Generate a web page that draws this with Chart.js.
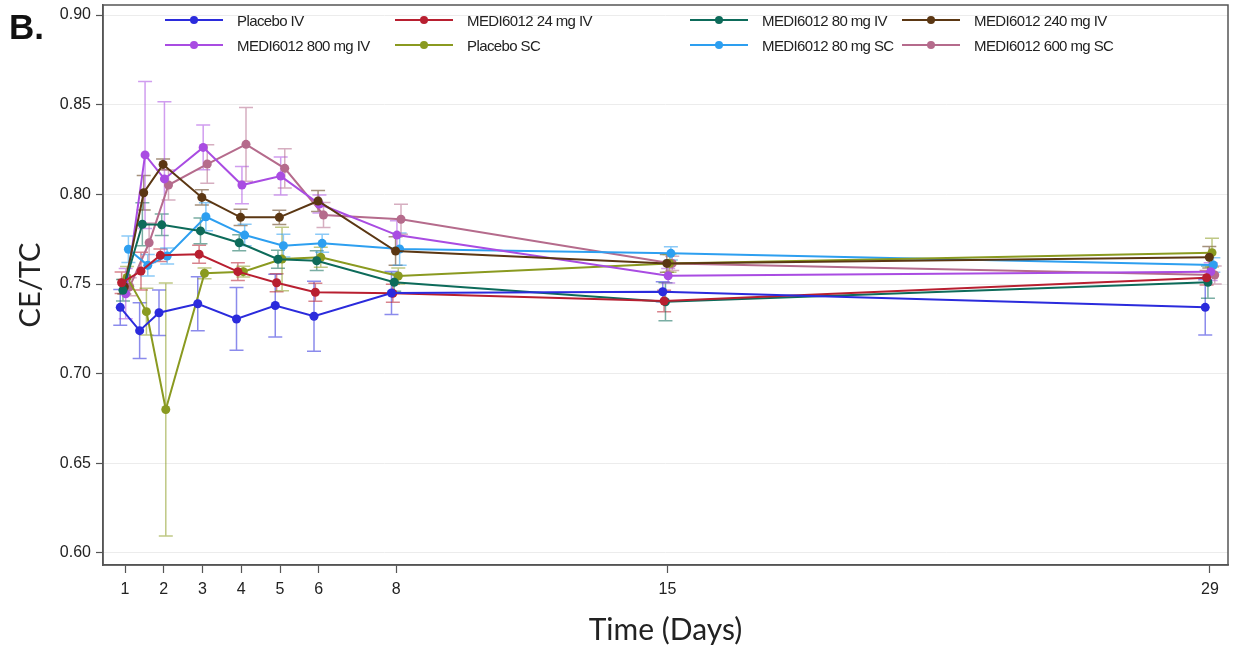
<!DOCTYPE html>
<html>
<head>
<meta charset="utf-8">
<script src="https://cdn.jsdelivr.net/npm/chart.js@4.4.1/dist/chart.umd.min.js"></script>
<style>
html, body { margin: 0; padding: 0; background: #fff; }
#wrap { position: relative; width: 1238px; height: 651px; }
#panel { position: absolute; left: 9px; top: 9px; font: bold 35px "Liberation Sans", Arial, sans-serif; line-height: 1; color: #111; }
.leg { position: absolute; height: 20px; display: flex; align-items: center; font: 15px "Liberation Sans", Arial, sans-serif; letter-spacing: -0.6px; color: #222; white-space: nowrap; }
.leg .swatch { position: relative; width: 58px; height: 2px; margin-right: 14px; }
.leg .swatch i { position: absolute; left: 25px; top: -3px; width: 8px; height: 8px; border-radius: 50%; }
</style>
</head>
<body>
<div id="wrap">
  <canvas id="chart" width="1238" height="651"></canvas>
  <div id="panel">B.</div>
  <div id="legend"></div>
</div>
<script>
// time points (days) and axis ticks
var days = [1, 1.5, 2, 3, 4, 5, 6, 8, 15, 29];
var xTicks = [1, 2, 3, 4, 5, 6, 8, 15, 29];
var yTicks = [0.60, 0.65, 0.70, 0.75, 0.80, 0.85, 0.90];

var groupNames = ['Placebo IV', 'MEDI6012 24 mg IV', 'MEDI6012 80 mg IV', 'MEDI6012 240 mg IV',
                  'MEDI6012 800 mg IV', 'Placebo SC', 'MEDI6012 80 mg SC', 'MEDI6012 600 mg SC'];

// mean CE/TC per group
var placeboIV  = [0.737, 0.724, 0.734, 0.739, 0.7305, 0.738, 0.732, 0.745, 0.7457, 0.737];
var medi24IV   = [0.7507, 0.7572, 0.766, 0.7666, 0.7569, 0.7507, 0.7454, 0.7448, 0.7405, 0.7535];
var medi80IV   = [0.7465, 0.7833, 0.783, 0.7796, 0.773, 0.7638, 0.763, 0.751, 0.7401, 0.751];
var medi240IV  = [0.7485, 0.8009, 0.8167, 0.7983, 0.7872, 0.7872, 0.7963, 0.7684, 0.7615, 0.7649];
var medi800IV  = [0.7446, 0.822, 0.8086, 0.8262, 0.8052, 0.8102, 0.7946, 0.7773, 0.7546, 0.7569];
var placeboSC  = [0.7537, 0.7346, 0.680, 0.756, 0.7569, 0.7639, 0.7649, 0.7545, 0.7615, 0.7675];
var medi80SC   = [0.7694, 0.7604, 0.7656, 0.7875, 0.7773, 0.7714, 0.7727, 0.7695, 0.7671, 0.7606];
var medi600SC  = [0.7485, 0.773, 0.8052, 0.8169, 0.8279, 0.8145, 0.7885, 0.7861, 0.7615, 0.755];

// half-width of error bars
var placeboIVErr = [0.010, 0.0155, 0.0127, 0.015, 0.0175, 0.0175, 0.0195, 0.012, 0.0056, 0.0154];
var medi24IVErr  = [0.006, 0.0105, 0.0035, 0.005, 0.005, 0.005, 0.005, 0.005, 0.006, 0.004];
var medi80IVErr  = [0.006, 0.012, 0.006, 0.0072, 0.0045, 0.005, 0.0055, 0.005, 0.0106, 0.009];
var medi240IVErr = [0.004, 0.0096, 0.003, 0.0042, 0.0045, 0.004, 0.0058, 0.008, 0.005, 0.006];
var medi800IVErr = [0.014, 0.041, 0.043, 0.0125, 0.0104, 0.0106, 0.005, 0.008, 0.004, 0.005];
var placeboSCErr = [0.006, 0.013, 0.0705, 0.003, 0.003, 0.0177, 0.0056, 0.0045, 0.005, 0.008];
var medi80SCErr  = [0.0074, 0.006, 0.0045, 0.0078, 0.006, 0.0063, 0.005, 0.009, 0.0037, 0.004];
var medi600SCErr = [0.005, 0.011, 0.0084, 0.0107, 0.0206, 0.011, 0.007, 0.0084, 0.004, 0.005];

var means = [placeboIV, medi24IV, medi80IV, medi240IV, medi800IV, placeboSC, medi80SC, medi600SC];
var errs = [placeboIVErr, medi24IVErr, medi80IVErr, medi240IVErr, medi800IVErr, placeboSCErr, medi80SCErr, medi600SCErr];
var colors = ['#2b2bdc', '#b81f30', '#0d6b5a', '#5b3713', '#a94ce2', '#8a9a20', '#2d9ff0', '#b56b8c'];

function fade(hex, a) {
    var n = parseInt(hex.slice(1), 16);
    return 'rgba(' + (n >> 16) + ',' + ((n >> 8) & 255) + ',' + (n & 255) + ',' + a + ')';
}

// groups are dodged slightly along x like the original plot
var datasets = [];
for (var i = 0; i < groupNames.length; i++) {
    var shift = (i - 3.5) * 0.035;
    var pts = [];
    for (var j = 0; j < days.length; j++) {
        pts.push({ x: days[j] + shift, y: means[i][j], err: errs[i][j] });
    }
    datasets.push({
        label: groupNames[i],
        data: pts,
        borderColor: colors[i],
        backgroundColor: colors[i],
        pointBackgroundColor: colors[i],
        pointBorderWidth: 0,
        pointRadius: 4.5,
        borderWidth: 2,
        tension: 0,
        errColor: fade(colors[i], 0.55)
    });
}

var errorBars = {
    id: 'errorBars',
    beforeDatasetsDraw: function(chart) {
        var ctx = chart.ctx, xs = chart.scales.x, ys = chart.scales.y;
        chart.data.datasets.forEach(function(ds) {
            ctx.save();
            ctx.strokeStyle = ds.errColor;
            ctx.lineWidth = 1.5;
            ds.data.forEach(function(p) {
                var px = xs.getPixelForValue(p.x);
                var top = ys.getPixelForValue(p.y + p.err);
                var bot = ys.getPixelForValue(p.y - p.err);
                ctx.beginPath();
                ctx.moveTo(px, top); ctx.lineTo(px, bot);
                ctx.moveTo(px - 7, top); ctx.lineTo(px + 7, top);
                ctx.moveTo(px - 7, bot); ctx.lineTo(px + 7, bot);
                ctx.stroke();
            });
            ctx.restore();
        });
    }
};

var frame = {
    id: 'frame',
    afterDraw: function(chart) {
        var a = chart.chartArea, ctx = chart.ctx;
        ctx.save();
        ctx.strokeStyle = '#555';
        ctx.lineWidth = 1.5;
        ctx.strokeRect(a.left, a.top, a.right - a.left, a.bottom - a.top);
        ctx.restore();
    }
};

var tickFont = { family: 'Liberation Sans', size: 16 };

new Chart(document.getElementById('chart'), {
    type: 'line',
    data: { datasets: datasets },
    options: {
        responsive: false,
        animation: false,
        events: [],
        layout: { padding: { left: 0, right: 10, top: 5, bottom: 0 } },
        plugins: { legend: { display: false }, tooltip: { enabled: false } },
        scales: {
            x: {
                type: 'linear',
                min: 0.432,
                max: 29.465,
                afterBuildTicks: function(s) { s.ticks = xTicks.map(function(v) { return { value: v }; }); },
                afterFit: function(s) { s.height = 86; s.paddingLeft = 0; s.paddingRight = 0; },
                grid: { drawOnChartArea: false, tickLength: 8, tickColor: '#555', tickWidth: 1.2 },
                border: { color: '#555', width: 1.5 },
                ticks: { font: tickFont, color: '#222', padding: 7, maxRotation: 0, autoSkip: false },
                title: { display: true, text: 'Time (Days)', font: { family: 'Lato', size: 30 }, color: '#222', padding: { top: 0, bottom: 3 } }
            },
            y: {
                min: 0.5933,
                max: 0.9056,
                afterBuildTicks: function(s) { s.ticks = yTicks.map(function(v) { return { value: v }; }); },
                afterFit: function(s) { s.width = 103; s.paddingTop = 0; s.paddingBottom = 0; },
                grid: { color: '#ececec', tickLength: 7, tickColor: '#555', tickWidth: 1.2 },
                border: { color: '#555', width: 1.5 },
                ticks: { font: tickFont, color: '#222', padding: 5, callback: function(v) { return v.toFixed(2); } },
                title: { display: true, text: 'CE/TC', font: { family: 'Lato', size: 29 }, color: '#222', padding: { top: 13, bottom: 0 } }
            }
        }
    },
    plugins: [errorBars, frame]
});

// legend: 4 columns x 2 rows inside the plot, like the original
var legCols = [165, 395, 690, 902];
var legRows = [10, 35];
var legend = document.getElementById('legend');
groupNames.forEach(function(name, k) {
    var el = document.createElement('div');
    el.className = 'leg';
    el.style.left = legCols[k % 4] + 'px';
    el.style.top = legRows[Math.floor(k / 4)] + 'px';
    el.innerHTML = '<span class="swatch" style="background:' + colors[k] + '"><i style="background:' + colors[k] + '"></i></span>' + name;
    legend.appendChild(el);
});
</script>
</body>
</html>
